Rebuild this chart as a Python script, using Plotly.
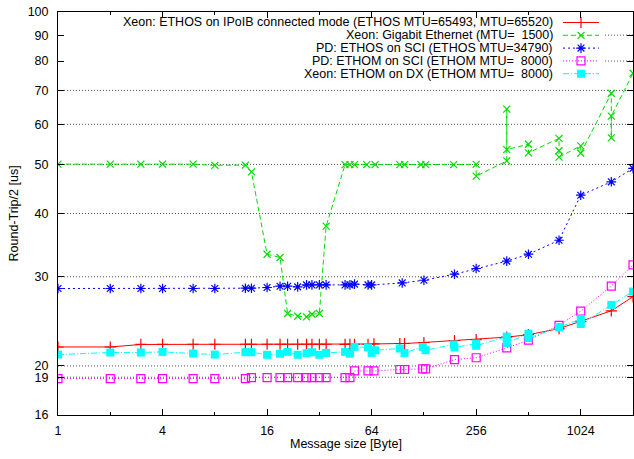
import math
import plotly.graph_objects as go

# ---------------- data ----------------
x_small = [1, 2, 3, 4, 6, 8, 12, 13, 16, 19, 21, 24, 27, 29, 32, 35, 45, 48, 51]

red_x = x_small + [61, 66, 93, 99, 128, 192, 256, 384, 512, 768, 1024, 1536, 2048]
red_y = [21.8, 21.8, 22.05, 22.07, 22.07, 22.07, 22.07, 22.07, 22.07, 22.07,
         22.07, 22.07, 22.07, 22.07, 22.07, 22.07, 22.05, 22.05, 22.07,
         22.07, 22.1, 22.15, 22.15, 22.25, 22.45, 22.55, 22.8, 23.05, 23.7,
         24.5, 25.7, 27.4]

green_x = x_small + [60, 67, 93, 99, 123, 131, 190, 256, 256, 384, 384, 384,
                     512, 512, 768, 768, 768, 1024, 1024, 1536, 1536, 1536, 2048]
green_y = [50.06, 50.06, 50.06, 50.06, 50.06, 49.8, 49.85, 48.34, 33.24, 32.75,
           25.38, 25.07, 24.99, 25.3, 25.38, 37.76, 49.95, 49.95, 49.95,
           49.95, 49.95, 49.95, 49.95, 49.95, 49.95, 49.95, 50.0, 47.4,
           50.8, 64.3, 53.5, 54.8, 52.7, 56.3, 53.2, 51.7, 54.4, 52.6,
           69.1, 56.4, 62.3, 75.7]

blue_x = x_small + [61, 64, 96, 128, 192, 256, 384, 512, 768, 1024, 1536, 2048]
blue_y = [28.44, 28.44, 28.44, 28.44, 28.44, 28.44, 28.48, 28.48, 28.57, 28.74,
          28.74, 28.65, 28.91, 28.91, 28.91, 28.91, 28.91, 28.91, 29.01,
          28.91, 28.91, 29.17, 29.53, 30.35, 31.15, 32.21, 33.24, 35.42,
          43.47, 46.2, 49.1]

magenta_x = x_small + [61, 66, 93, 99, 126, 131, 192, 256, 384, 512, 768, 1024, 1536, 2048]
magenta_y = [18.88, 18.88, 18.88, 18.88, 18.88, 18.88, 18.88, 18.97, 18.97, 18.97,
             18.97, 18.97, 18.97, 18.97, 18.97, 18.97, 18.97, 18.97, 19.55,
             19.55, 19.55, 19.68, 19.68, 19.73, 19.73, 20.59, 20.76, 21.71,
             22.48, 24.06, 25.66, 28.76, 31.66]

cyan_x = x_small + [61, 64, 67, 93, 99, 126, 131, 190, 192, 256, 256, 384, 384,
                    512, 512, 768, 1024, 1024, 1536, 2048]
cyan_y = [21.06, 21.26, 21.26, 21.32, 21.16, 21.06, 21.29, 21.29, 21.04, 21.14,
          21.32, 21.04, 21.19, 21.29, 21.04, 21.22, 21.32, 21.14, 21.81,
          21.75, 21.22, 21.48, 21.65, 21.22, 21.81, 21.48, 22.05, 21.75,
          22.15, 21.92, 22.85, 22.2, 23.15, 22.7, 23.85, 24.75, 24.2, 26.4, 28.05]

labels = [
    "Xeon: ETHOS on IPoIB connected mode (ETHOS MTU=65493, MTU=65520)",
    "Xeon: Gigabit Ethernet (MTU=\u00a0\u00a01500)",
    "PD: ETHOS on SCI (ETHOS MTU=34790)",
    "PD: ETHOM on SCI (ETHOM MTU=\u00a0\u00a08000)",
    "Xeon: ETHOM on DX (ETHOM MTU=\u00a0\u00a08000)",
]

x_tick_vals = [1, 4, 16, 64, 256, 1024]
x_minor_vals = [2, 8, 32, 128, 512]
y_tick_vals = [16, 19, 20, 30, 40, 50, 60, 70, 80, 90, 100]
grid_full = [19, 20, 30, 40, 50, 60, 70]
grid_partial = [80, 90]

# ---------------- styles ----------------
styles = [
    dict(color="#ff0000", dash="solid", symbol="cross-thin-open", size=8, lw=1.0),
    dict(color="#00dd00", dash="5px,3px", symbol="x-thin-open", size=7, lw=1.0),
    dict(color="#0000ff", dash="2px,3px", symbol="asterisk-open", size=8, lw=1.0),
    dict(color="#ff00ff", dash="1px,2px", symbol="square-open", size=8, lw=1.0),
    dict(color="#00ffff", dash="6px,2px,1px,2px", symbol="square", size=8, lw=1.0),
]
series = [(red_x, red_y), (green_x, green_y), (blue_x, blue_y),
          (magenta_x, magenta_y), (cyan_x, cyan_y)]

W, H = 634, 459
L, R, T, B = 58, 1, 12, 44
PW, PH = W - L - R, H - T - B
FS = 12.5


def px_to_paper_x(px):
    return (px - L) / PW


def px_to_paper_y(py):
    return (H - B - py) / PH


fig = go.Figure()

for (xs, ys), st, lab in zip(series, styles, labels):
    filled = st["symbol"] == "square"
    fig.add_trace(go.Scatter(
        x=xs, y=ys, mode="lines+markers", name=lab,
        line=dict(color=st["color"], width=st["lw"], dash=st["dash"]),
        marker=dict(symbol=st["symbol"], size=st["size"], color=st["color"],
                    line=dict(color=st["color"], width=0 if filled else 1.2)),
        showlegend=False,
    ))

# custom gnuplot-style key (text right, sample on the right)
row_py = [22.5, 35.3, 48.1, 60.9, 73.7]
sx0, sx1, sxm = px_to_paper_x(563), px_to_paper_x(599), px_to_paper_x(581)
for i, (st, lab) in enumerate(zip(styles, labels)):
    yy = px_to_paper_y(row_py[i])
    filled = st["symbol"] == "square"
    fig.add_trace(go.Scatter(
        x=[sx0, sx1], y=[yy, yy], mode="lines", xaxis="x2", yaxis="y2",
        line=dict(color=st["color"], width=st["lw"], dash=st["dash"]),
        showlegend=False, hoverinfo="skip"))
    fig.add_trace(go.Scatter(
        x=[sxm], y=[yy], mode="markers", xaxis="x2", yaxis="y2",
        marker=dict(symbol=st["symbol"], size=st["size"], color=st["color"],
                    line=dict(color=st["color"], width=0 if filled else 1.2)),
        showlegend=False, hoverinfo="skip"))
    fig.add_annotation(text=lab, xref="paper", yref="paper",
                       x=px_to_paper_x(555), y=yy, xanchor="right", yanchor="middle",
                       showarrow=False, font=dict(size=FS, color="black"))

# grid lines (dotted), partially hidden behind the key for 80 and 90
lo, hi = math.log10(16), 2.0
shapes = []
for v in grid_full + grid_partial:
    fy = (math.log10(v) - lo) / (hi - lo)
    x0 = 0 if v in grid_full else px_to_paper_x(605)
    shapes.append(dict(type="line", xref="paper", yref="paper", x0=x0, x1=1,
                       y0=fy, y1=fy, layer="below",
                       line=dict(color="#555555", width=1, dash="1px,2px")))

fig.update_layout(
    width=W, height=H,
    margin=dict(l=L, r=R, t=T, b=B, pad=0),
    paper_bgcolor="white", plot_bgcolor="white",
    showlegend=False,
    font=dict(family="Liberation Sans, Arial, sans-serif", size=FS, color="black"),
    shapes=shapes,
    xaxis=dict(
        type="log", range=[0, math.log10(2048)],
        tickmode="array", tickvals=x_tick_vals, ticktext=[str(v) for v in x_tick_vals],
        ticks="inside", ticklen=6, tickwidth=1, tickcolor="black",
        mirror="allticks", showline=True, linecolor="black", linewidth=1,
        showgrid=False, zeroline=False, ticklabelstandoff=4,
        minor=dict(tickmode="array", tickvals=x_minor_vals, ticks="inside",
                   ticklen=3, tickcolor="black", showgrid=False),
    ),
    yaxis=dict(
        type="log", range=[lo, hi],
        tickmode="array", tickvals=y_tick_vals, ticktext=[str(v) for v in y_tick_vals],
        ticks="inside", ticklen=6, tickwidth=1, tickcolor="black",
        mirror="allticks", showline=True, linecolor="black", linewidth=1,
        showgrid=False, zeroline=False, ticklabelstandoff=6,
    ),
    xaxis2=dict(overlaying="x", anchor="y2", range=[0, 1], visible=False, fixedrange=True),
    yaxis2=dict(overlaying="y", anchor="x2", range=[0, 1], visible=False, fixedrange=True),
)

fig.add_annotation(text="Round-Trip/2 [us]", xref="paper", yref="paper",
                   x=px_to_paper_x(13), y=0.5, xanchor="center", yanchor="middle",
                   textangle=-90, showarrow=False, font=dict(size=FS))
fig.add_annotation(text="Message size [Byte]", xref="paper", yref="paper",
                   x=0.5, y=px_to_paper_y(444), xanchor="center", yanchor="middle",
                   showarrow=False, font=dict(size=FS))

fig.write_html("out.html")
